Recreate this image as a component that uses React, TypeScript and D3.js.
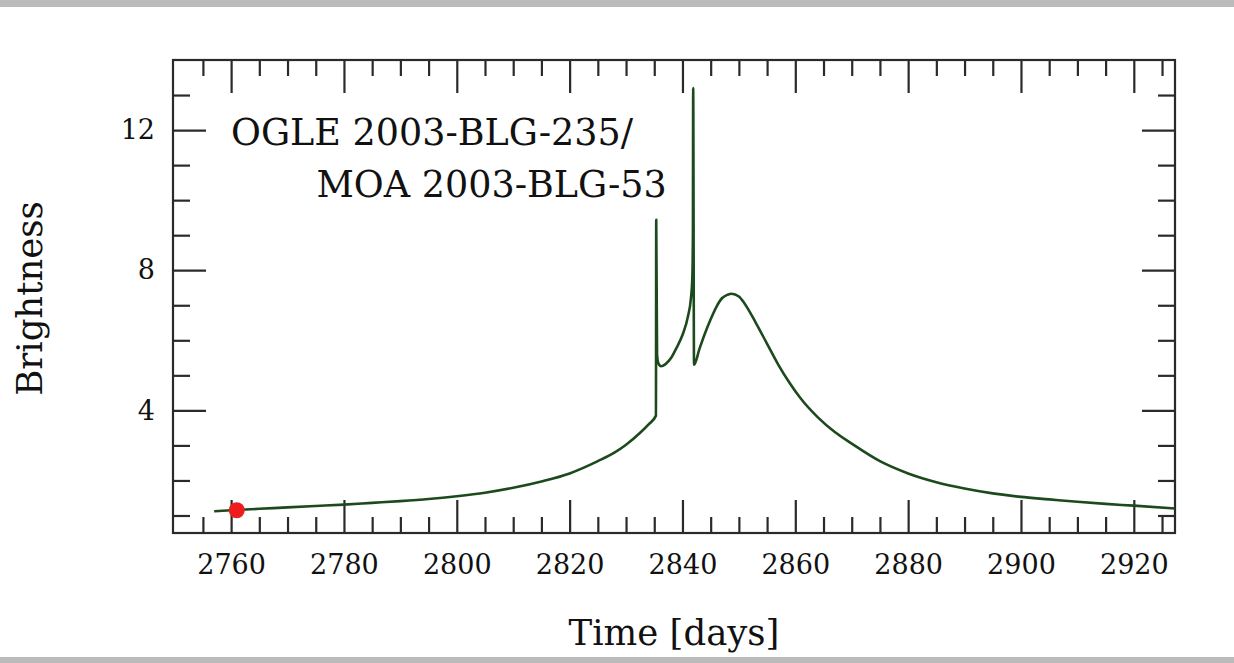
import React, { useEffect, useRef } from 'react';
import * as d3 from 'd3';

// light curve: time in days, brightness (magnification)
const times = [
  2757, 2760, 2765, 2770, 2775, 2780, 2785, 2790, 2795, 2800, 2805, 2810, 2815,
  2820, 2825, 2828, 2830, 2832.5, 2834, 2835.3,
  2835.35, 2835.5, 2835.7, 2836.2, 2837, 2838, 2839, 2840, 2841, 2841.5, 2841.75, 2841.85,
  2841.9, 2842.05, 2843, 2844, 2845, 2846, 2847, 2848, 2848.7, 2850, 2851, 2853,
  2855, 2857, 2859, 2861, 2864, 2867, 2870, 2875, 2880, 2885, 2890, 2895, 2900,
  2905, 2910, 2915, 2920, 2927.3,
];
const brightness = [
  1.12, 1.15, 1.19, 1.23, 1.27, 1.31, 1.36, 1.41, 1.47, 1.55, 1.65, 1.79, 1.97,
  2.2, 2.55, 2.8, 3.02, 3.36, 3.6, 3.85,
  9.44, 5.6, 5.36, 5.26, 5.32, 5.5, 5.8, 6.15, 6.7, 7.2, 7.8, 9.0,
  13.2, 5.3, 5.75, 6.2, 6.6, 6.95, 7.2, 7.3, 7.33, 7.25, 7.05, 6.5,
  5.9, 5.3, 4.78, 4.33, 3.8, 3.38, 3.05, 2.55, 2.2, 1.95, 1.77, 1.63, 1.53,
  1.46, 1.39, 1.33, 1.28, 1.2,
];

// the red marker ("now")
const markerTime = [2761];
const markerBrightness = [1.15];

const xMajor = [2760, 2780, 2800, 2820, 2840, 2860, 2880, 2900, 2920];
const xMinor = d3.range(2755, 2926, 5).filter((d) => d % 20 !== 0);
const yMajor = [4, 8, 12];
const yMinor = [1, 2, 3, 5, 6, 7, 9, 10, 11, 13];

const titleLines = ['OGLE 2003-BLG-235/', 'MOA 2003-BLG-53'];

const W = 1234;
const H = 663;
const FONT = '"DejaVu Serif", "Liberation Serif", serif';

function App() {
  const ref = useRef<SVGSVGElement>(null);

  useEffect(() => {
    const svg = d3.select(ref.current);
    svg.selectAll('*').remove();

    const left = 173;
    const right = 1175;
    const top = 60;
    const bottom = 533;

    const x = d3.scaleLinear().domain([2749.7, 2927.3]).range([left, right]);
    const y = d3.scaleLinear().domain([0.5, 14]).range([bottom, top]);

    svg.append('rect').attr('width', W).attr('height', H).attr('fill', '#fff');
    // grey bands at top and bottom
    svg.append('rect').attr('width', W).attr('height', 7).attr('fill', '#bbbbbb');
    svg.append('rect').attr('y', 657).attr('width', W).attr('height', 6).attr('fill', '#bbbbbb');

    const tickStyle = (g) => {
      g.select('.domain').remove();
      g.selectAll('line').attr('stroke', '#2a2a2a').attr('stroke-width', 2.2);
      g.selectAll('text')
        .attr('fill', '#111')
        .style('font-family', FONT)
        .style('font-size', '27px');
    };

    // bottom
    svg.append('g').attr('transform', `translate(0,${bottom})`)
      .call(d3.axisBottom(x).tickValues(xMinor).tickSize(-16).tickFormat(() => ''))
      .call(tickStyle);
    svg.append('g').attr('transform', `translate(0,${bottom})`)
      .call(d3.axisBottom(x).tickValues(xMajor).tickSize(-33).tickPadding(22).tickFormat(d3.format('d')))
      .call(tickStyle);
    // top
    svg.append('g').attr('transform', `translate(0,${top})`)
      .call(d3.axisTop(x).tickValues(xMinor).tickSize(-16).tickFormat(() => ''))
      .call(tickStyle);
    svg.append('g').attr('transform', `translate(0,${top})`)
      .call(d3.axisTop(x).tickValues(xMajor).tickSize(-33).tickFormat(() => ''))
      .call(tickStyle);
    // left
    svg.append('g').attr('transform', `translate(${left},0)`)
      .call(d3.axisLeft(y).tickValues(yMinor).tickSize(-17).tickFormat(() => ''))
      .call(tickStyle);
    svg.append('g').attr('transform', `translate(${left},0)`)
      .call(d3.axisLeft(y).tickValues(yMajor).tickSize(-33).tickPadding(18).tickFormat(d3.format('d')))
      .call(tickStyle);
    // right
    svg.append('g').attr('transform', `translate(${right},0)`)
      .call(d3.axisRight(y).tickValues(yMinor).tickSize(-17).tickFormat(() => ''))
      .call(tickStyle);
    svg.append('g').attr('transform', `translate(${right},0)`)
      .call(d3.axisRight(y).tickValues(yMajor).tickSize(-33).tickFormat(() => ''))
      .call(tickStyle);

    // frame
    svg.append('rect')
      .attr('x', left)
      .attr('y', top)
      .attr('width', right - left)
      .attr('height', bottom - top)
      .attr('fill', 'none')
      .attr('stroke', '#2a2a2a')
      .attr('stroke-width', 2.2);

    const points = times.map((t, i) => [t, brightness[i]]);
    const line = d3.line()
      .x((d) => x(d[0]))
      .y((d) => y(d[1]))
      .curve(d3.curveMonotoneX);

    svg.append('path')
      .datum(points)
      .attr('d', line)
      .attr('fill', 'none')
      .attr('stroke', '#1d4a1d')
      .attr('stroke-width', 2.6)
      .attr('stroke-linejoin', 'round');

    svg.selectAll('.marker')
      .data(markerTime)
      .enter()
      .append('circle')
      .attr('class', 'marker')
      .attr('cx', (d) => x(d))
      .attr('cy', (d, i) => y(markerBrightness[i]))
      .attr('r', 8)
      .attr('fill', '#ee1c1c');

    // event name
    const label = svg.append('g')
      .style('font-family', FONT)
      .style('font-size', '36.5px')
      .attr('fill', '#111');
    label.append('text').attr('x', 231).attr('y', 145).text(titleLines[0]);
    label.append('text').attr('x', 316.5).attr('y', 197).text(titleLines[1]);

    // axis titles
    svg.append('text')
      .attr('x', (left + right) / 2)
      .attr('y', 645)
      .attr('text-anchor', 'middle')
      .attr('fill', '#111')
      .style('font-family', FONT)
      .style('font-size', '35.5px')
      .text('Time [days]');
    svg.append('text')
      .attr('transform', `translate(41.5,${(top + bottom) / 2 + 2}) rotate(-90)`)
      .attr('text-anchor', 'middle')
      .attr('fill', '#111')
      .style('font-family', FONT)
      .style('font-size', '35.5px')
      .text('Brightness');
  }, []);

  return (
    <svg
      ref={ref}
      width={W}
      height={H}
      style={{ position: 'absolute', left: 0, top: 0, display: 'block' }}
    />
  );
}

export default App;
